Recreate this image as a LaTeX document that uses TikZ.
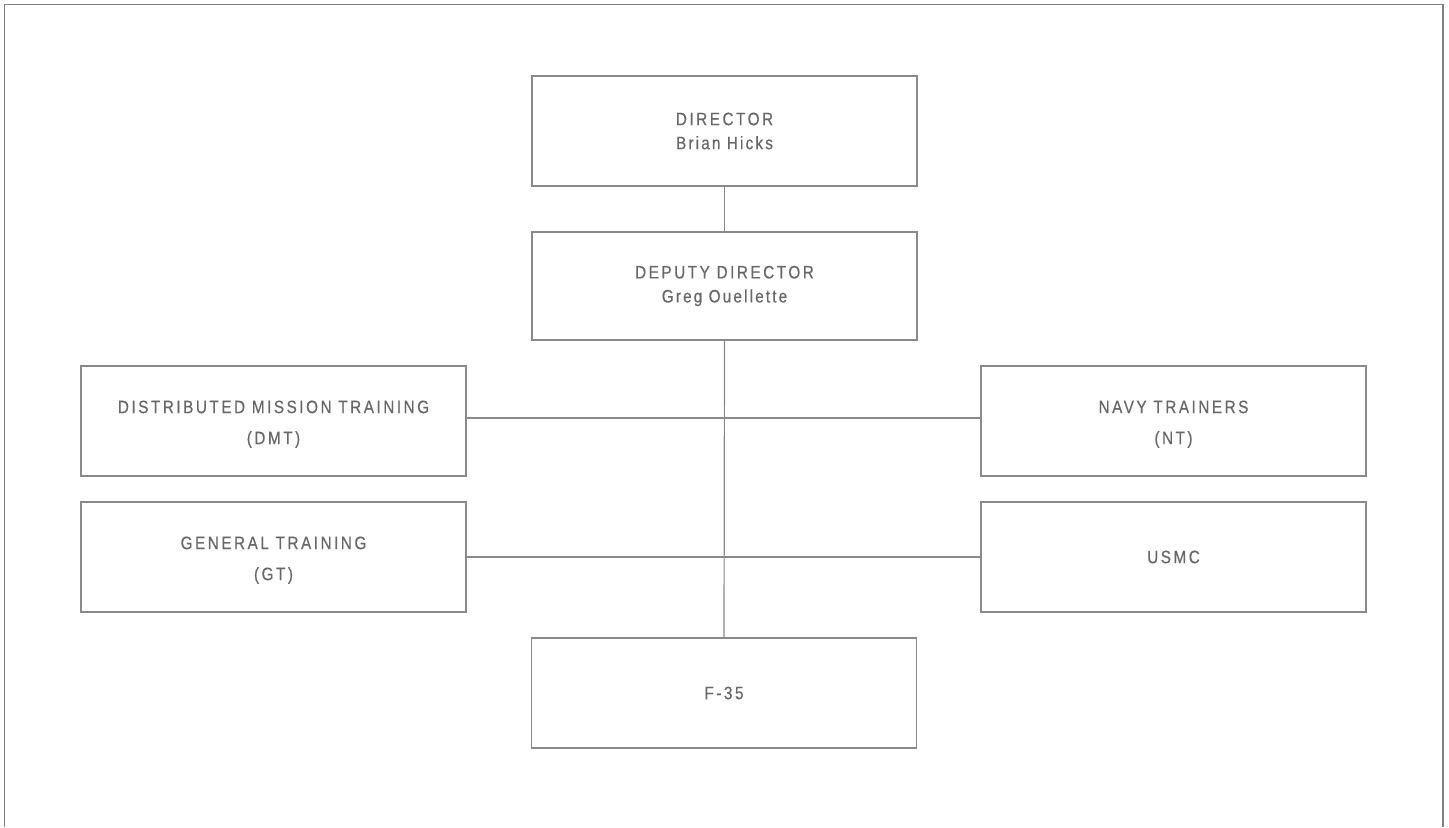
\documentclass[tikz,border=0pt]{standalone}
\usepackage{fontspec}
\setmainfont{Liberation Sans}[FakeStretch=0.85]
\newfontfamily\capsfont{Liberation Sans}[FakeStretch=0.85,LetterSpace=14,FakeBold=0.5]
\newfontfamily\namefont{Liberation Sans}[FakeStretch=0.85,LetterSpace=12,FakeBold=0.5]
\definecolor{linegray}{HTML}{8A8A8A}
\definecolor{textgray}{HTML}{686868}
\definecolor{framegray}{HTML}{808080}
\tikzset{
  orgbox/.style={draw=linegray, line width=1.2bp, minimum width=385bp, minimum height=110bp,
    inner sep=0pt, align=center, text=textgray, font=\capsfont\fontsize{18bp}{24bp}\selectfont},
  link/.style={draw=linegray, line width=1.2bp},
}
\newcommand{\nm}[1]{{\namefont #1}}
\newcommand{\lift}{\rule{0pt}{19bp}}
\begin{document}
\begin{tikzpicture}[x=1bp,y=-1bp]
\useasboundingbox (0,0) rectangle (1449,827);
\coordinate (fbl) at (4.5,827);
\coordinate (ftl) at (4.5,4.5);
\coordinate (ftr) at (1443,4.5);
\coordinate (fbr) at (1443,827);
\draw[framegray, line width=1.6bp] (fbl) -- (ftl) -- (ftr) -- (fbr);

\node[orgbox] (dir) at (724.5,131) {DIRECTOR\\\nm{Brian Hicks}};
\node[orgbox, minimum height=108bp] (dep) at (724.5,286) {DEPUTY DIRECTOR\\\nm{Greg Ouellette}};
\node[orgbox] (dmt) at (273.5,421) {\lift DISTRIBUTED MISSION TRAINING\\[7bp](DMT)};
\node[orgbox] (gt) at (273.5,557) {\lift GENERAL TRAINING\\[7bp](GT)};
\node[orgbox] (nt) at (1173.5,421) {\lift NAVY TRAINERS\\[7bp](NT)};
\node[orgbox] (usmc) at (1173.5,557) {USMC};
\node[orgbox] (f35) at (724,693) {F-35};

\draw[link] (dir.south) -- (dep.north);
\draw[link] (dep.south) -- (f35.north);
\draw[link] ([yshift=3bp]dmt.east) -- ([yshift=3bp]nt.west);
\draw[link] (gt.east) -- (usmc.west);
\end{tikzpicture}
\end{document}
